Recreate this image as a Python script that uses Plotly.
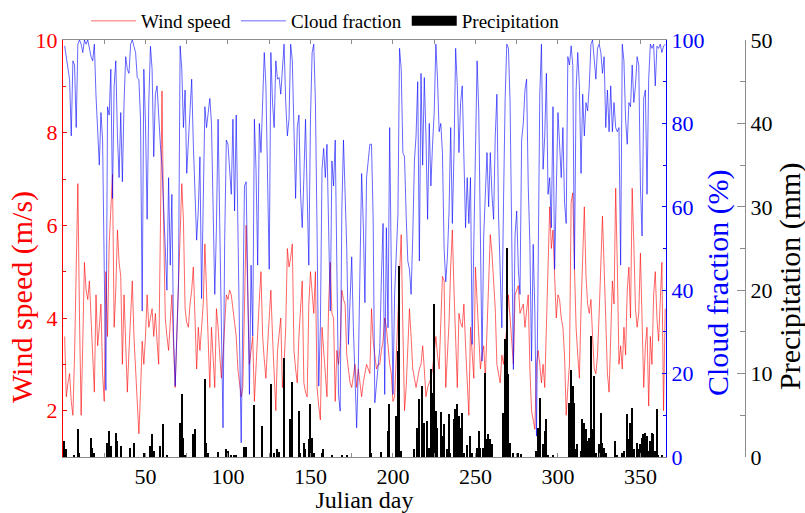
import plotly.graph_objects as go

days = list(range(1, 366))

wind = [3.6, 2.3, 2.6, 2.8, 2.2, 1.9, 3.2, 5.5, 6.9, 4.0,
        1.9, 3.5, 5.2, 4.6, 4.4, 4.8, 4.0, 3.0, 2.4, 4.5,
        3.4, 3.8, 4.3, 2.8, 2.2, 5.0, 3.6, 5.6, 6.4, 7.1,
        3.8, 4.6, 5.9, 5.2, 4.9, 3.0, 4.5, 3.5, 2.4, 3.3,
        4.0, 4.8, 3.6, 2.9, 2.3, 1.5, 2.4, 3.5, 3.0, 3.6,
        4.5, 3.8, 4.0, 4.2, 3.6, 4.1, 3.5, 3.0, 5.8, 8.9,
        6.0, 4.0, 3.6, 3.3, 3.9, 4.5, 3.4, 2.5, 3.6, 4.7,
        5.6, 6.9, 6.1, 4.2, 3.9, 3.8, 4.3, 4.6, 5.1, 3.8,
        2.9, 3.8, 3.3, 3.8, 4.3, 5.6, 4.5, 3.6, 2.5, 3.8,
        3.0, 2.5, 4.2, 3.8, 3.2, 2.7, 3.2, 3.8, 4.5, 4.4,
        4.6, 4.5, 4.2, 4.0, 3.6, 2.9, 2.6, 2.3, 2.5, 4.2,
        6.0, 4.5, 3.0, 3.3, 3.6, 2.2, 3.0, 3.8, 4.4, 5.0,
        3.6, 3.1, 2.7, 3.4, 4.0, 4.6, 3.6, 2.8, 2.0, 3.3,
        3.7, 4.0, 2.5, 3.0, 3.8, 5.5, 5.1, 5.3, 5.6, 3.3,
        2.9, 2.6, 3.6, 4.2, 4.8, 2.6, 2.4, 2.3, 4.3, 5.0,
        4.5, 4.1, 5.0, 2.5, 2.1, 1.8, 3.8, 3.2, 2.8, 2.3,
        4.3, 5.2, 4.1, 4.0, 2.2, 3.3, 3.0, 3.4, 4.6, 4.4,
        4.3, 3.2, 2.9, 2.6, 2.5, 2.8, 3.0, 2.5, 2.9, 2.6,
        2.3, 2.6, 2.8, 3.0, 2.9, 2.8, 4.2, 3.5, 3.2, 2.9,
        3.0, 3.0, 3.3, 3.5, 4.0, 3.8, 3.4, 3.0, 2.8, 2.2,
        2.3, 3.2, 4.0, 5.1, 5.8, 3.8, 2.0, 2.5, 3.4, 4.2,
        3.6, 2.9, 2.7, 2.5, 2.7, 2.9, 3.0, 3.4, 2.9, 2.3,
        2.5, 2.6, 2.7, 2.9, 3.3, 3.6, 3.2, 2.9, 3.9, 4.9,
        4.8, 2.5, 3.2, 3.9, 5.1, 5.9, 4.6, 3.6, 2.5, 4.1,
        3.9, 3.8, 4.3, 3.4, 2.6, 1.9, 3.8, 3.2, 2.7, 5.1,
        4.4, 3.6, 2.9, 3.2, 3.4, 2.7, 3.6, 4.5, 5.8, 5.4,
        4.8, 4.2, 3.0, 2.8, 2.6, 3.2, 3.0, 3.4, 3.8, 4.5,
        4.0, 3.5, 3.0, 4.5, 4.6, 4.7, 4.1, 4.2, 4.3, 3.8,
        4.1, 4.5, 2.9, 2.0, 1.8, 1.6, 3.0, 3.3, 3.0, 2.6,
        3.0, 2.5, 3.8, 5.1, 6.4, 5.5, 5.9, 4.9, 4.0, 4.5,
        4.4, 4.0, 3.8, 3.2, 1.9, 2.5, 3.0, 6.5, 6.7, 5.1,
        3.8, 3.2, 2.7, 4.2, 5.3, 6.4, 4.9, 4.3, 4.1, 4.4,
        3.6, 2.9, 2.8, 3.2, 4.1, 5.1, 6.2, 5.1, 3.9, 2.8,
        2.4, 3.9, 4.8, 4.3, 6.8, 5.1, 3.0, 3.4, 2.9, 3.8,
        3.2, 4.6, 5.1, 4.0, 6.8, 5.6, 4.2, 3.8, 4.1, 5.4,
        3.9, 2.5, 3.4, 3.8, 2.1, 3.6, 3.0, 4.5, 5.0, 4.0,
        3.5, 4.5, 5.2, 2.0, 4.2]

cloud = [98.6, 96, 93, 90.5, 77, 95, 94, 79, 99, 100,
         99, 97, 100, 99, 100, 98, 96, 95, 99, 86.6,
         78, 70, 82.6, 76, 45, 16, 84, 82, 93, 62,
         89, 95, 77, 67, 82.6, 66, 85, 96, 93, 92,
         99, 100, 98.5, 97, 91, 90.5, 81, 35, 93, 80,
         57, 85, 98.5, 93, 72, 87, 89, 80, 75, 70,
         61, 50, 40, 67, 46, 63, 29, 17, 30, 42,
         98.6, 93, 79, 88, 68, 75, 85, 90.6, 75, 61,
         52, 59, 72, 38, 61, 84, 79, 82, 86, 80,
         61, 39, 55, 81, 56, 31, 7, 52, 76, 75,
         70, 63, 81, 59, 82, 49, 29, 3.4, 29, 65,
         66, 37, 15, 46, 29, 81, 69, 46, 80, 73,
         83, 97, 89, 69, 45, 97, 85, 79, 95, 90.6,
         91, 87, 92, 99, 85, 77, 81, 99, 95, 77,
         62, 79, 82, 63, 55, 67, 81, 63, 46, 81,
         97, 99, 85, 54, 17, 31, 69, 74, 67, 75,
         57, 35, 71, 65, 76, 51, 15, 11, 59, 76,
         64, 50, 27, 38, 48, 31, 17, 7, 21, 45,
         68, 56, 37, 67, 72, 75, 75, 57, 13, 18,
         21, 26, 43, 56, 15, 55, 31, 79, 45, 15,
         39, 50, 58, 98, 93, 73, 72, 58, 47, 45,
         39, 53, 71, 77, 90, 47, 92, 70, 91, 77,
         57, 80, 65, 75, 82.6, 99, 90.6, 78, 80, 73,
         50, 42, 48, 59, 79, 56, 73, 98, 89, 73,
         85, 89, 69, 55, 67, 56, 67, 27, 51, 69,
         95, 83, 49, 23, 53, 63, 73, 60, 73, 63,
         57, 77, 87, 58, 41, 31, 61, 86, 99, 98,
         85, 51, 21, 53, 59, 45, 39, 76, 80, 88,
         90.6, 65, 51, 23, 51, 35, 5, 45, 87, 99,
         69, 77, 92, 63, 67, 55, 84, 45, 69, 82.6,
         75, 67, 79, 61, 56, 96, 94, 98.6, 94, 45,
         88, 97, 89, 68, 87, 77, 85, 83, 89, 99,
         100, 96, 90.6, 98, 99, 97, 92, 96, 79, 88,
         78, 89, 78, 85, 79, 78, 79, 46, 99, 95,
         81, 75, 85, 84, 94, 85, 89, 96, 94, 65,
         53, 86, 88, 63, 90.6, 99, 98, 99, 89, 98.5,
         98, 99, 97, 98.5, 99]

precip_days = [1, 2, 7, 9, 10, 17, 18, 19, 27, 28, 29, 32, 33, 35, 41, 43, 49,
               53, 54, 55, 59, 61, 63, 71, 72, 73, 74, 79, 80, 86, 87, 88, 94,
               99, 100, 102, 104, 105, 110, 111, 116, 121, 126, 128, 130, 131,
               134, 138, 139, 143, 144, 146, 147, 149, 150, 151, 152, 157, 158,
               163, 169, 172, 186, 187, 193, 197, 198, 202, 203, 204, 205, 213,
               215, 216, 218, 219, 221, 222, 223, 224, 225, 226, 227, 229, 230,
               231, 233, 234, 235, 237, 238, 239, 240, 241, 242, 243, 245, 247,
               248, 251, 252, 253, 255, 256, 257, 258, 259, 260, 267, 268, 269,
               270, 271, 273, 276, 278, 287, 288, 289, 291, 292, 293, 294, 297,
               307, 308, 309, 310, 311, 312, 314, 315, 316, 317, 318, 319, 320,
               321, 322, 323, 325, 326, 327, 328, 329, 335, 336, 339, 340, 342,
               343, 344, 345, 346, 348, 349, 350, 351, 352, 353, 354, 355, 356,
               357, 358, 359, 360, 361, 363]
precip_vals = [1.9, 0.9, 0.2, 3.4, 0.5, 2.3, 1.1, 0.5, 1.7, 3.1, 1.3, 2.9, 1.9,
               1.3, 1.1, 1.7, 0.5, 1.3, 2.8, 0.7, 1.3, 3.9, 0.3, 4.1, 7.5, 2.3,
               0.3, 2.7, 3.4, 9.4, 1.7, 0.5, 0.6, 1.0, 0.7, 0.2, 0.3, 0.3, 1.2,
               1.2, 6.2, 3.7, 8.7, 0.5, 0.9, 0.6, 11.9, 4.5, 9.0, 5.5, 0.5, 1.7,
               0.9, 2.1, 6.3, 2.3, 0.5, 0.5, 1.0, 0.2, 0.2, 0.3, 5.9, 0.5, 0.6,
               3.1, 6.3, 4.9, 12.7, 22.9, 0.7, 0.9, 3.5, 6.9, 8.5, 4.1, 4.3, 1.1,
               10.5, 7.7, 18.3, 5.5, 3.5, 5.4, 2.5, 3.9, 0.9, 5.1, 0.5, 4.5, 5.7,
               6.3, 4.9, 3.5, 5.3, 0.5, 1.4, 2.5, 0.5, 1.1, 3.1, 1.1, 1.1, 10.1,
               2.1, 2.7, 2.1, 1.5, 5.3, 14.1, 25.1, 9.9, 1.7, 0.5, 0.5, 0.4, 0.7,
               3.5, 7.1, 1.5, 3.1, 4.5, 0.3, 0.3, 6.5, 10.4, 8.5, 6.5, 0.9, 1.5,
               0.7, 4.5, 4.1, 3.3, 1.9, 2.3, 14.5, 3.3, 9.7, 0.5, 1.5, 5.3, 1.7,
               1.1, 0.5, 1.9, 0.3, 0.5, 0.7, 5.1, 2.1, 4.1, 5.9, 0.9, 1.7, 0.9,
               1.5, 2.3, 2.7, 2.9, 2.5, 0.7, 1.9, 2.9, 2.7, 0.7, 5.7, 0.3, 0.2]

x_ticks = [50, 100, 150, 200, 250, 300, 350]
wind_ticks = [2, 4, 6, 8, 10]
cloud_ticks = [0, 20, 40, 60, 80, 100]
precip_ticks = [0, 10, 20, 30, 40, 50]

FONT = "Liberation Serif, Times New Roman, serif"
RED = "#ff0000"
BLUE = "#0000ff"
GRAY = "#8c8c8c"
TITLE_SIZE = 30

fig = go.Figure()
fig.add_trace(go.Scatter(x=days, y=wind, mode="lines", name="Wind speed",
                         line=dict(color=RED, width=0.6), yaxis="y"))
fig.add_trace(go.Scatter(x=days, y=cloud, mode="lines", name="Cloud fraction",
                         line=dict(color=BLUE, width=0.6), yaxis="y2"))
fig.add_trace(go.Bar(x=precip_days, y=precip_vals, name="Precipitation",
                     marker=dict(color="black", line=dict(width=0)), width=0.9,
                     yaxis="y3", showlegend=False))
fig.add_trace(go.Scatter(x=[None], y=[None], mode="lines", name="Precipitation",
                         line=dict(color="black", width=17), yaxis="y3"))

PW = 742.0
PH = 417.0
dom_r = (666 - 63) / PW


def px(xp):
    return (xp - 63) / PW


def py(yp):
    return (457 - yp) / PH


titles = [
    ("Wind speed (m/s)", RED, 22, 297),
    ("Cloud fraction (%)", BLUE, 718, 283),
    ("Precipitation (mm)", "black", 790, 277),
]
annotations = [
    dict(text=t, x=px(xc), y=py(yc), xref="paper", yref="paper", showarrow=False,
         textangle=-90, xanchor="center", yanchor="middle",
         font=dict(size=TITLE_SIZE, color=c, family=FONT))
    for (t, c, xc, yc) in titles
]

fig.update_layout(
    width=805, height=513,
    margin=dict(l=63, r=0, t=40, b=56, autoexpand=False),
    paper_bgcolor="white", plot_bgcolor="white",
    font=dict(family=FONT, size=22, color="black"),
    showlegend=True,
    legend=dict(orientation="h", x=px(86), xanchor="left",
                y=1 + 38 / PH, yanchor="top", font=dict(size=19, family=FONT),
                bgcolor="rgba(0,0,0,0)", itemwidth=45, tracegroupgap=0),
    bargap=0,
    annotations=annotations,
    xaxis=dict(domain=[0, dom_r], range=[0, 365.5], tickvals=x_ticks,
               ticks="inside", ticklen=4, tickcolor=GRAY, showline=True,
               linecolor=GRAY, linewidth=1, mirror="ticks", showgrid=False,
               zeroline=False, tickfont=dict(size=22, family=FONT),
               minor=dict(dtick=25, tick0=0, ticks="inside", ticklen=4, tickcolor=GRAY),
               title=dict(text="Julian day", font=dict(size=24, family=FONT), standoff=2)),
    yaxis=dict(range=[1, 10], tickvals=wind_ticks, ticks="inside", ticklen=4,
               tickcolor=RED, showline=True, linecolor=RED, linewidth=1,
               showgrid=False, zeroline=False,
               tickfont=dict(size=22, color=RED, family=FONT),
               minor=dict(dtick=1, tick0=0, ticks="inside", ticklen=3, tickcolor=RED)),
    yaxis2=dict(range=[0, 100], tickvals=cloud_ticks, overlaying="y", side="right",
                anchor="x", ticks="inside", ticklen=4, tickcolor=BLUE,
                showline=True, linecolor=BLUE, linewidth=1, showgrid=False,
                zeroline=False, tickfont=dict(size=22, color=BLUE, family=FONT),
                minor=dict(dtick=10, tick0=0, ticks="inside", ticklen=3, tickcolor=BLUE)),
    yaxis3=dict(range=[0, 50], tickvals=precip_ticks, overlaying="y", side="right",
                anchor="free", position=(745 - 63) / PW, ticks="inside", ticklen=8,
                tickcolor=GRAY, showline=True, linecolor=GRAY, linewidth=1,
                showgrid=False, zeroline=False,
                tickfont=dict(size=22, color="black", family=FONT),
                minor=dict(dtick=5, tick0=0, ticks="inside", ticklen=5, tickcolor=GRAY)),
)

fig.write_html("out.html")
